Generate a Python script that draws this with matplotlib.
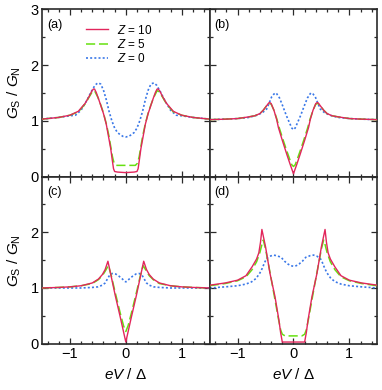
import matplotlib
matplotlib.use("Agg")
import matplotlib.pyplot as plt
from matplotlib.ticker import MultipleLocator

plt.rcParams["font.family"] = ["Liberation Sans", "DejaVu Sans"]
plt.rcParams["mathtext.fontset"] = "custom"
plt.rcParams["mathtext.it"] = "Liberation Sans:italic"
plt.rcParams["mathtext.rm"] = "Liberation Sans"

# ---- panel (a) ----
a_x10 = [-1.5, -1.2, -1.0, -0.85, -0.73, -0.66, -0.61, -0.58, -0.56, -0.53, -0.49, -0.45, -0.4,
         -0.35, -0.31, -0.27, -0.24, -0.22, -0.2, -0.15, 0.0, 0.15, 0.2, 0.22, 0.24, 0.27, 0.31,
         0.35, 0.4, 0.45, 0.49, 0.53, 0.56, 0.58, 0.61, 0.66, 0.73, 0.85, 1.0, 1.2, 1.5]
a_y10 = [1.03, 1.06, 1.10, 1.17, 1.31, 1.43, 1.53, 1.57, 1.57, 1.51, 1.40, 1.28, 1.13,
         0.94, 0.72, 0.50, 0.28, 0.14, 0.09, 0.08, 0.07, 0.08, 0.09, 0.14, 0.28, 0.50, 0.72,
         0.94, 1.13, 1.28, 1.40, 1.51, 1.57, 1.57, 1.53, 1.43, 1.31, 1.17, 1.10, 1.06, 1.03]
a_x5 = [-1.5, -1.2, -1.0, -0.85, -0.73, -0.66, -0.6, -0.56, -0.5, -0.45, -0.4, -0.35, -0.3, -0.27,
        -0.24, -0.21, -0.17, 0.0, 0.17, 0.21, 0.24, 0.27, 0.3, 0.35, 0.4, 0.45, 0.5, 0.56, 0.6,
        0.66, 0.73, 0.85, 1.0, 1.2, 1.5]
a_y5 = [1.03, 1.06, 1.10, 1.16, 1.30, 1.42, 1.52, 1.54, 1.42, 1.29, 1.14, 0.95, 0.72, 0.54,
        0.36, 0.24, 0.20, 0.20, 0.20, 0.24, 0.36, 0.54, 0.72, 0.95, 1.14, 1.29, 1.42, 1.54, 1.52,
        1.42, 1.30, 1.16, 1.10, 1.06, 1.03]
a_x0 = [-1.5, -1.2, -1.0, -0.9, -0.8, -0.7, -0.62, -0.55, -0.5, -0.45, -0.4, -0.35, -0.3, -0.25,
        -0.2, -0.15, -0.1, -0.05, 0.0, 0.05, 0.1, 0.15, 0.2, 0.25, 0.3, 0.35, 0.4, 0.45, 0.5,
        0.55, 0.62, 0.7, 0.8, 0.9, 1.0, 1.2, 1.5]
a_y0 = [1.03, 1.06, 1.09, 1.10, 1.19, 1.36, 1.52, 1.64, 1.68, 1.66, 1.55, 1.38, 1.17, 1.00,
        0.87, 0.79, 0.75, 0.72, 0.71, 0.72, 0.75, 0.79, 0.87, 1.00, 1.17, 1.38, 1.55, 1.66, 1.68,
        1.64, 1.52, 1.36, 1.19, 1.10, 1.09, 1.06, 1.03]

# ---- panel (b) ----
b_x10 = [-1.5, -1.2, -1.0, -0.8, -0.69, -0.6, -0.54, -0.48, -0.45, -0.43, -0.4, -0.35, -0.3,
         -0.27, -0.2, -0.12, -0.06, 0.0, 0.06, 0.12, 0.2, 0.27, 0.3, 0.35, 0.4, 0.43, 0.45, 0.48,
         0.54, 0.6, 0.69, 0.8, 1.0, 1.2, 1.5]
b_y10 = [1.02, 1.03, 1.04, 1.07, 1.09, 1.13, 1.19, 1.27, 1.31, 1.33, 1.31, 1.19, 1.02,
         0.88, 0.65, 0.40, 0.22, 0.05, 0.22, 0.40, 0.65, 0.88, 1.02, 1.19, 1.31, 1.33, 1.31, 1.27,
         1.19, 1.13, 1.09, 1.07, 1.04, 1.03, 1.02]
b_x5 = [-1.5, -1.2, -1.0, -0.8, -0.69, -0.6, -0.54, -0.48, -0.44, -0.4, -0.35, -0.3, -0.25,
        -0.18, -0.12, -0.06, -0.03, 0.0, 0.03, 0.06, 0.12, 0.18, 0.25, 0.3, 0.35, 0.4, 0.44, 0.48,
        0.54, 0.6, 0.69, 0.8, 1.0, 1.2, 1.5]
b_y5 = [1.02, 1.03, 1.04, 1.07, 1.09, 1.13, 1.19, 1.27, 1.31, 1.30, 1.19, 1.04, 0.86,
        0.64, 0.46, 0.29, 0.21, 0.18, 0.21, 0.29, 0.46, 0.64, 0.86, 1.04, 1.19, 1.30, 1.31, 1.27,
        1.19, 1.13, 1.09, 1.07, 1.04, 1.03, 1.02]
b_x0 = [-1.5, -1.2, -1.0, -0.8, -0.65, -0.55, -0.48, -0.43, -0.39, -0.35, -0.31, -0.25, -0.19,
        -0.13, -0.07, -0.03, 0.0, 0.03, 0.07, 0.13, 0.19, 0.25, 0.31, 0.35, 0.39, 0.43, 0.48,
        0.55, 0.65, 0.8, 1.0, 1.2, 1.5]
b_y0 = [1.02, 1.03, 1.04, 1.06, 1.10, 1.15, 1.21, 1.33, 1.43, 1.48, 1.50, 1.41, 1.26,
        1.10, 0.96, 0.87, 0.84, 0.87, 0.96, 1.10, 1.26, 1.41, 1.50, 1.48, 1.43, 1.33, 1.21,
        1.15, 1.10, 1.06, 1.04, 1.03, 1.02]

# ---- panel (c) ----
c_x10 = [-1.5, -1.2, -1.0, -0.8, -0.6, -0.49, -0.42, -0.37, -0.34, -0.32, -0.26, -0.19, -0.1,
         0.0, 0.1, 0.19, 0.26, 0.32, 0.34, 0.37, 0.42, 0.49, 0.6, 0.8, 1.0, 1.2, 1.5]
c_y10 = [1.00, 1.01, 1.02, 1.04, 1.09, 1.16, 1.24, 1.33, 1.42, 1.48, 1.20, 0.87, 0.48,
         0.03, 0.48, 0.87, 1.20, 1.48, 1.42, 1.33, 1.24, 1.16, 1.09, 1.04, 1.02, 1.01, 1.00]
c_x5 = [-1.5, -1.2, -1.0, -0.8, -0.6, -0.49, -0.42, -0.37, -0.33, -0.31, -0.26, -0.19, -0.1,
        -0.04, 0.0, 0.04, 0.1, 0.19, 0.26, 0.31, 0.33, 0.37, 0.42, 0.49, 0.6, 0.8, 1.0, 1.2, 1.5]
c_y5 = [1.00, 1.01, 1.02, 1.04, 1.08, 1.15, 1.22, 1.30, 1.37, 1.40, 1.22, 0.92, 0.55,
        0.32, 0.22, 0.32, 0.55, 0.92, 1.22, 1.40, 1.37, 1.30, 1.22, 1.15, 1.08, 1.04, 1.02, 1.01, 1.00]
c_x0 = [-1.5, -1.0, -0.8, -0.6, -0.5, -0.42, -0.37, -0.33, -0.29, -0.24, -0.18, -0.12, -0.06,
        -0.02, 0.0, 0.02, 0.06, 0.12, 0.18, 0.24, 0.29, 0.33, 0.37, 0.42, 0.5, 0.6, 0.8, 1.0, 1.5]
c_y0 = [1.00, 1.00, 1.00, 1.01, 1.02, 1.05, 1.09, 1.16, 1.23, 1.26, 1.25, 1.21, 1.16,
        1.12, 1.11, 1.12, 1.16, 1.21, 1.25, 1.26, 1.23, 1.16, 1.09, 1.05, 1.02, 1.01, 1.00, 1.00, 1.00]

# ---- panel (d) ----
d_x10 = [-1.5, -1.22, -1.0, -0.85, -0.74, -0.66, -0.62, -0.59, -0.565, -0.5, -0.42, -0.33,
         -0.26, -0.23, -0.2, 0.0, 0.2, 0.23, 0.26, 0.33, 0.42, 0.5, 0.565, 0.59, 0.62, 0.66,
         0.74, 0.85, 1.0, 1.22, 1.5]
d_y10 = [1.05, 1.09, 1.14, 1.22, 1.38, 1.52, 1.63, 1.82, 2.05, 1.74, 1.26, 0.84,
         0.42, 0.20, 0.03, 0.03, 0.03, 0.20, 0.42, 0.84, 1.26, 1.74, 2.05, 1.82, 1.63, 1.52,
         1.38, 1.22, 1.14, 1.09, 1.05]
d_x5 = [-1.5, -1.22, -1.0, -0.85, -0.74, -0.66, -0.6, -0.56, -0.54, -0.5, -0.42, -0.34, -0.27,
        -0.23, -0.2, -0.15, 0.0, 0.15, 0.2, 0.23, 0.27, 0.34, 0.42, 0.5, 0.54, 0.56, 0.6, 0.66,
        0.74, 0.85, 1.0, 1.22, 1.5]
d_y5 = [1.04, 1.08, 1.13, 1.20, 1.33, 1.47, 1.64, 1.80, 1.86, 1.70, 1.28, 0.84, 0.45,
        0.25, 0.17, 0.14, 0.14, 0.14, 0.17, 0.25, 0.45, 0.84, 1.28, 1.70, 1.86, 1.80, 1.64, 1.47,
        1.33, 1.20, 1.13, 1.08, 1.04]
d_x0 = [-1.5, -1.22, -1.0, -0.85, -0.75, -0.67, -0.6, -0.56, -0.52, -0.48, -0.42, -0.36, -0.3,
        -0.22, -0.16, -0.1, -0.05, 0.0, 0.05, 0.1, 0.16, 0.22, 0.3, 0.36, 0.42, 0.48, 0.52, 0.56,
        0.6, 0.67, 0.75, 0.85, 1.0, 1.22, 1.5]
d_y0 = [1.00, 1.02, 1.04, 1.07, 1.11, 1.17, 1.27, 1.35, 1.45, 1.53, 1.57, 1.59, 1.58,
        1.55, 1.48, 1.43, 1.40, 1.39, 1.40, 1.43, 1.48, 1.55, 1.58, 1.59, 1.57, 1.53, 1.45, 1.35,
        1.27, 1.17, 1.11, 1.07, 1.04, 1.02, 1.00]

panels = [
    ("(a)", a_x10, a_y10, a_x5, a_y5, a_x0, a_y0),
    ("(b)", b_x10, b_y10, b_x5, b_y5, b_x0, b_y0),
    ("(c)", c_x10, c_y10, c_x5, c_y5, c_x0, c_y0),
    ("(d)", d_x10, d_y10, d_x5, d_y5, d_x0, d_y0),
]
z_labels = ["$Z$ = 10", "$Z$ = 5", "$Z$ = 0"]

red, green, blue = "#e2265c", "#66e010", "#3a78e8"
spine_c = "#2a2a2a"

fig = plt.figure(figsize=(3.82, 3.90), dpi=100)
left, bottom, w, h = 0.1099, 0.1187, 0.4389, 0.4287
pos = [(left, bottom + h), (left + w, bottom + h), (left, bottom), (left + w, bottom)]

for i, (tag, x10, y10, x5, y5, x0, y0) in enumerate(panels):
    ax = fig.add_axes([pos[i][0], pos[i][1], w, h])
    l0, = ax.plot(x0, y0, color=blue, lw=1.2, linestyle=(0, (1.2, 1.3)), zorder=2)
    l5, = ax.plot(x5, y5, color=green, lw=1.1, linestyle=(0, (6, 2.5)), zorder=3)
    l10, = ax.plot(x10, y10, color=red, lw=1.0, zorder=4)

    ax.set_xlim(-1.5, 1.5)
    ax.set_ylim(0, 3)
    ax.xaxis.set_major_locator(MultipleLocator(1))
    ax.xaxis.set_minor_locator(MultipleLocator(0.2))
    ax.yaxis.set_major_locator(MultipleLocator(1))
    ax.yaxis.set_minor_locator(MultipleLocator(0.5))
    ax.tick_params(which="both", direction="in", top=True, right=True,
                   color=spine_c, width=0.9, labelsize=10.5, pad=2.5)
    ax.tick_params(which="major", length=4)
    ax.tick_params(which="minor", length=2.2)
    for s in ax.spines.values():
        s.set_color(spine_c)
        s.set_linewidth(1.2)

    ax.text(0.03, 0.905, tag, transform=ax.transAxes, fontsize=9, va="center", ha="left")

    if i < 2:
        ax.tick_params(labelbottom=False)
    else:
        ax.set_xticks([-1, 0, 1])
        ax.set_xticklabels(["\u22121", "0", "1"])
        ax.set_xlabel("$eV$ / \u0394", fontsize=11, labelpad=4)
    if i % 2 == 1:
        ax.tick_params(labelleft=False)
    else:
        ax.set_yticks([0, 1, 2, 3])
        if i == 0:
            ax.set_yticklabels(["0", "1", "2", "3"])
        else:
            ax.set_yticklabels(["0", "1", "2", ""])
        ax.set_ylabel("$G_\\mathrm{S}$ / $G_\\mathrm{N}$", fontsize=11, labelpad=5)

    if i == 0:
        ax.legend([l10, l5, l0], z_labels, loc="upper left", bbox_to_anchor=(0.262, 0.915),
                  frameon=False, fontsize=8.5, handlelength=1.9, handletextpad=0.75,
                  labelspacing=0.1, borderpad=0, borderaxespad=0)

fig.savefig("out.png", dpi=100)
